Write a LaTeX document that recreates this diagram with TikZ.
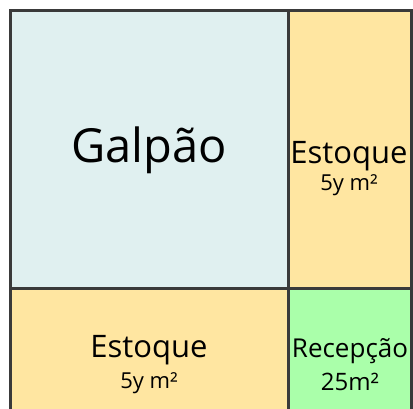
\documentclass[tikz,border=0pt]{standalone}
\usepackage{fontspec}
\setmainfont{Open Sans}
\usepackage{xcolor}
\definecolor{galpaoFill}{HTML}{E0F0F0}
\definecolor{estoqueFill}{HTML}{FFE6A1}
\definecolor{recepFill}{HTML}{AAFFAA}
\definecolor{wallGray}{HTML}{3A3A3A}
\tikzset{
  wall/.style = {draw=wallGray, line width=3pt},% parede
  roomname/.style = {anchor=base, inner sep=0pt, text=black},
  bigname/.style = {roomname, font=\fontsize{47}{54}\selectfont},
  midname/.style = {roomname, font=\fontsize{31}{36}\selectfont},
  smallname/.style = {roomname, font=\fontsize{26}{30}\selectfont},
  areatext/.style = {roomname, font=\fontsize{22}{26}\selectfont}
}

\begin{document}
\begin{tikzpicture}[x=1pt,y=-1pt]
\useasboundingbox (0,0) rectangle (413,408);
\clip (0,0) rectangle (413,408);
% comodos
\fill [galpaoFill] (10,10) rectangle (288,288);
\fill [estoqueFill] (288,10) rectangle (412,288);
\fill [estoqueFill] (10,288) rectangle (288,440);
\fill [recepFill] (288,288) rectangle (412,440);
% paredes
\draw [wall] (10.5,10.5) rectangle (411.5,440);
\draw [wall] (288,10) -- (288,440);
\draw [wall] (10,288) -- (412,288);
% textos
\node [bigname] (galpao) at (149,162) {Galpão};
\node [midname] (estoqueR) at (349,163) {Estoque};
\node [areatext] (estoqueRarea) at (349,190) {5y m²};
\node [midname] (estoqueB) at (149,357) {Estoque};
\node [areatext] (estoqueBarea) at (149,388) {5y m²};
\node [smallname] (recep) at (350,357) {Recepção};
\node [roomname, font=\fontsize{24}{28}\selectfont] (recepArea) at (350,390) {25m²};
\end{tikzpicture}
\end{document}
